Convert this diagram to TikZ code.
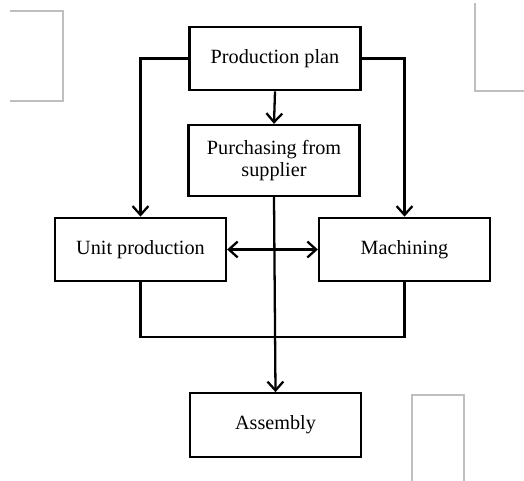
\documentclass[tikz,border=0pt]{standalone}
\usepackage{fontspec}
\setmainfont{Liberation Serif}
\usetikzlibrary{arrows.meta}

\tikzset{
  block/.style={draw=black, line width=1.3pt, minimum width=3.42cm, minimum height=1.27cm, inner sep=0pt, align=center, font=\fontsize{11.5}{13}\selectfont},
  flow/.style={line width=1.3pt, color=black},
  ghost/.style={line width=0.6pt, color=black!25}
}

\begin{document}
\begin{tikzpicture}

\useasboundingbox (0,0) rectangle (10.48,-9.62);

\node[block] (plan) at (5.5,-1.17) {Production plan};
\node[block, minimum height=1.42cm] (purch) at (5.48,-3.21) {Purchasing from\\supplier};
\node[block] (unit) at (2.81,-4.99) {Unit production};
\node[block] (mach) at (8.09,-4.99) {Machining};
\node[block] (asm) at (5.51,-8.5) {Assembly};

\coordinate (join) at (5.5,-6.74);

\draw[flow, -{Straight Barb[length=5pt,width=9pt]}] (plan.west) -| (unit.north);
\draw[flow, -{Straight Barb[length=5pt,width=9pt]}] (plan.east) -| (mach.north);
\draw[flow, -{Straight Barb[length=5pt,width=9pt]}] (plan.south) -- (purch.north);
\draw[flow, -{Straight Barb[length=5pt,width=9pt]}] (purch.south) -- (asm.north);
\draw[flow, {Straight Barb[length=5pt,width=9pt]}-{Straight Barb[length=5pt,width=9pt]}] (unit.east) -- (mach.west);

\draw[flow] (unit.south) |- (join) -| (mach.south);

% faint frames
\draw[ghost] (0.2,-0.22) -- (1.26,-0.22) -- (1.26,-2.02) -- (0.2,-2.02);
\draw[ghost] (9.5,-0.06) -- (9.5,-1.82) -- (10.48,-1.82);
\draw[ghost] (8.24,-9.62) -- (8.24,-7.9) -- (9.28,-7.9) -- (9.28,-9.62);

\end{tikzpicture}
\end{document}
